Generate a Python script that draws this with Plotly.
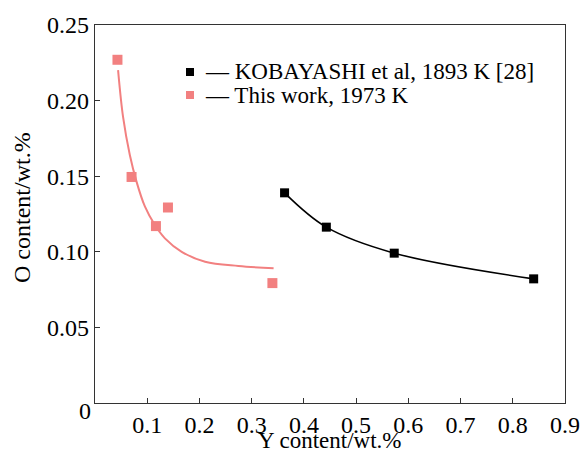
import plotly.graph_objects as go

# Data points
kob_x = [0.363, 0.443, 0.573, 0.840]
kob_y = [0.139, 0.1163, 0.0991, 0.0821]

this_x = [0.043, 0.070, 0.1167, 0.1397, 0.3397]
this_y = [0.227, 0.1495, 0.117, 0.1293, 0.0793]

# Fitted curve for "This work"
fit_x = [0.0442, 0.0538, 0.0667, 0.0795, 0.0955, 0.1147, 0.1339, 0.166, 0.2108, 0.2747, 0.342]
fit_y = [0.2202, 0.1890, 0.1640, 0.1464, 0.1300, 0.1177, 0.1089, 0.1000, 0.0934, 0.0906, 0.0891]

x_ticks = [0.1, 0.2, 0.3, 0.4, 0.5, 0.6, 0.7, 0.8, 0.9]
x_tick_labels = ["0.1", "0.2", "0.3", "0.4", "0.5", "0.6", "0.7", "0.8", "0.9"]
y_ticks = [0.05, 0.10, 0.15, 0.20, 0.25]
y_tick_labels = ["0.05", "0.10", "0.15", "0.20", "0.25"]

legend_names = ["KOBAYASHI et al, 1893 K [28]", "This work, 1973 K"]
x_title = "Y content/wt.%"
y_title = "O content/wt.%"

PINK = "#F28080"
FONT = "Liberation Serif"

fig = go.Figure()

fig.add_trace(go.Scatter(x=kob_x, y=kob_y, mode="lines", line=dict(color="black", width=1.6, shape="spline"),
                         showlegend=False, hoverinfo="skip"))
fig.add_trace(go.Scatter(x=fit_x, y=fit_y, mode="lines", line=dict(color=PINK, width=2, shape="spline", smoothing=1.0),
                         showlegend=False, hoverinfo="skip"))
fig.add_trace(go.Scatter(x=kob_x, y=kob_y, mode="markers",
                         marker=dict(symbol="square", size=9, color="black"),
                         name=legend_names[0], showlegend=False))
fig.add_trace(go.Scatter(x=this_x, y=this_y, mode="markers",
                         marker=dict(symbol="square", size=10, color=PINK),
                         name=legend_names[1], showlegend=False))

axis_common = dict(showline=True, linecolor="#333", linewidth=1.3, mirror=True,
                   ticks="inside", ticklen=5, tickwidth=1.2, tickcolor="#333",
                   showgrid=False, zeroline=False, automargin=False,
                   tickfont=dict(family=FONT, size=24, color="black"))

# Plot area: x 95..565 px, y 25..403 px
def px_x(p):
    return (p - 95) / 470.0

def px_y(p):
    return (403 - p) / 378.0

legend_rows = [(72, "black", legend_names[0]), (95, PINK, legend_names[1])]
shapes = []
annotations = []
for yc, col, name in legend_rows:
    shapes.append(dict(type="rect", xref="paper", yref="paper",
                       x0=px_x(186), x1=px_x(194), y0=px_y(yc + 4), y1=px_y(yc - 4),
                       fillcolor=col, line=dict(width=0)))
    annotations.append(dict(x=px_x(203), y=px_y(yc), xref="paper", yref="paper",
                            text="\u2014 " + name, showarrow=False, xanchor="left", yanchor="middle",
                            font=dict(family=FONT, size=23, color="black")))

annotations.append(dict(x=0, y=0, xref="paper", yref="y", text="0", showarrow=False,
                        xanchor="right", yanchor="middle", xshift=-2, yshift=-8,
                        font=dict(family=FONT, size=24, color="black")))
annotations.append(dict(x=0.5, y=px_y(440), xref="paper", yref="paper", text=x_title,
                        showarrow=False, xanchor="center", yanchor="middle",
                        font=dict(family=FONT, size=23, color="black")))
annotations.append(dict(x=px_x(22), y=px_y(208), xref="paper", yref="paper", text=y_title,
                        showarrow=False, xanchor="center", yanchor="middle", textangle=-90,
                        font=dict(family=FONT, size=24, color="black")))

fig.update_layout(
    width=584, height=457,
    margin=dict(l=95, r=19, t=25, b=54),
    paper_bgcolor="white", plot_bgcolor="white",
    font=dict(family=FONT, color="black"),
    xaxis=dict(range=[0, 0.9], tickvals=x_ticks, ticktext=x_tick_labels,
               ticklabelstandoff=0, **axis_common),
    yaxis=dict(range=[0, 0.25], tickvals=y_ticks, ticktext=y_tick_labels,
               **axis_common),
    showlegend=False,
    shapes=shapes,
    annotations=annotations,
)

fig.write_html("out.html", config={"displayModeBar": False},
               post_script="document.body.style.margin='0';document.body.style.padding='0';")
